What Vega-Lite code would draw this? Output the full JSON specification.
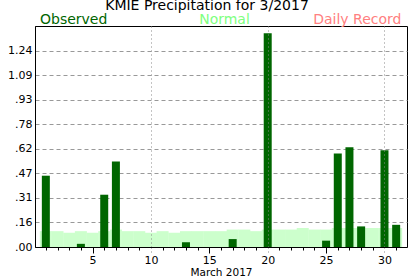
{
  "$schema": "https://vega.github.io/schema/vega-lite/v6.json",
  "width": 372,
  "height": 221,
  "autosize": {"type": "none"},
  "padding": {"left": 35, "top": 26, "right": 10, "bottom": 29},
  "background": "white",
  "config": {"font": "DejaVu Sans", "view": {"stroke": "black", "strokeWidth": 1}},
  "title": {"text": "KMIE Precipitation for 3/2017", "fontSize": 14, "limit": 0, "fontWeight": "normal", "color": "black", "anchor": "middle", "dx": -14, "offset": -11, "baseline": "alphabetic", "font": "DejaVu Sans"},
  "data": {"values": [
    {"day": 1, "precip": 0.45, "normal": 0.10},
    {"day": 2, "precip": 0, "normal": 0.10},
    {"day": 3, "precip": 0, "normal": 0.09},
    {"day": 4, "precip": 0.02, "normal": 0.10},
    {"day": 5, "precip": 0, "normal": 0.09},
    {"day": 6, "precip": 0.33, "normal": 0.10},
    {"day": 7, "precip": 0.54, "normal": 0.11},
    {"day": 8, "precip": 0, "normal": 0.10},
    {"day": 9, "precip": 0, "normal": 0.10},
    {"day": 10, "precip": 0, "normal": 0.09},
    {"day": 11, "precip": 0, "normal": 0.10},
    {"day": 12, "precip": 0, "normal": 0.09},
    {"day": 13, "precip": 0.03, "normal": 0.10},
    {"day": 14, "precip": 0, "normal": 0.10},
    {"day": 15, "precip": 0, "normal": 0.10},
    {"day": 16, "precip": 0, "normal": 0.10},
    {"day": 17, "precip": 0.05, "normal": 0.11},
    {"day": 18, "precip": 0, "normal": 0.11},
    {"day": 19, "precip": 0, "normal": 0.10},
    {"day": 20, "precip": 1.35, "normal": 0.11},
    {"day": 21, "precip": 0, "normal": 0.11},
    {"day": 22, "precip": 0, "normal": 0.11},
    {"day": 23, "precip": 0, "normal": 0.12},
    {"day": 24, "precip": 0, "normal": 0.11},
    {"day": 25, "precip": 0.04, "normal": 0.11},
    {"day": 26, "precip": 0.59, "normal": 0.12},
    {"day": 27, "precip": 0.63, "normal": 0.12},
    {"day": 28, "precip": 0.13, "normal": 0.12},
    {"day": 29, "precip": 0, "normal": 0.12},
    {"day": 30, "precip": 0.61, "normal": 0.12},
    {"day": 31, "precip": 0.14, "normal": 0.12}
  ]},
  "layer": [
    {
      "mark": {"type": "bar", "width": 12, "color": "#ccffcc"},
      "encoding": {
        "x": {"field": "day", "type": "quantitative",
          "scale": {"domain": [0.5, 31.5], "nice": false, "zero": false},
          "axis": {
            "values": [1,2,3,4,5,6,7,8,9,10,11,12,13,14,15,16,17,18,19,20,21,22,23,24,25,26,27,28,29,30,31],
            "title": "March 2017", "titleFontSize": 10.5, "titleFontWeight": "normal", "titleColor": "black", "titlePadding": 2,
            "labelExpr": "datum.value % 5 === 0 ? format(datum.value, 'd') : ''",
            "labelFontSize": 11, "labelColor": "black", "labelPadding": 1, "labelOverlap": false, "labelFlush": false, "labelBound": false,
            "tickSize": {"condition": {"test": "datum.value % 5 === 0", "value": 6}, "value": 3},
            "tickColor": {"condition": {"test": "datum.value % 10 === 0", "value": "#888888"}, "value": "black"},
            "tickDash": {"condition": {"test": "datum.value % 10 === 0", "value": [1, 3]}, "value": []},
            "grid": true,
            "gridOpacity": {"condition": {"test": "datum.value % 10 === 0", "value": 1}, "value": 0},
            "gridColor": "#888888", "gridDash": [1, 3],
            "domainColor": "black", "zindex": 1
          }},
        "y": {"field": "normal", "type": "quantitative",
          "scale": {"domain": [0, 1.395], "nice": false},
          "axis": {
            "values": [0, 0.155, 0.31, 0.465, 0.62, 0.775, 0.93, 1.085, 1.24],
            "title": null, "ticks": false, "labelPadding": 3, "labelFontSize": 11, "labelColor": "black", "labelOverlap": false,
            "domainColor": "black", "grid": true, "gridColor": "#999999", "gridDash": [4, 3],
            "labelExpr": "replace(format(datum.value + 0.001, '.2f'), '0.', '.')"
          }}
      }
    },
    {
      "mark": {"type": "bar", "width": 8, "color": "#006600"},
      "encoding": {
        "x": {"field": "day", "type": "quantitative",
          "axis": {
            "values": [1,2,3,4,5,6,7,8,9,10,11,12,13,14,15,16,17,18,19,20,21,22,23,24,25,26,27,28,29,30,31],
            "title": "March 2017", "titleFontSize": 10.5, "titleFontWeight": "normal", "titleColor": "black", "titlePadding": 2,
            "labelExpr": "datum.value % 5 === 0 ? format(datum.value, 'd') : ''",
            "labelFontSize": 11, "labelColor": "black", "labelPadding": 1, "labelOverlap": false, "labelFlush": false, "labelBound": false,
            "tickSize": {"condition": {"test": "datum.value % 5 === 0", "value": 6}, "value": 3},
            "tickColor": {"condition": {"test": "datum.value % 10 === 0", "value": "#888888"}, "value": "black"},
            "tickDash": {"condition": {"test": "datum.value % 10 === 0", "value": [1, 3]}, "value": []},
            "grid": true,
            "gridOpacity": {"condition": {"test": "datum.value % 10 === 0", "value": 1}, "value": 0},
            "gridColor": "#888888", "gridDash": [1, 3],
            "domainColor": "black", "zindex": 1
          }},
        "y": {"field": "precip", "type": "quantitative",
          "axis": {
            "values": [0, 0.155, 0.31, 0.465, 0.62, 0.775, 0.93, 1.085, 1.24],
            "title": null, "ticks": false, "labelPadding": 3, "labelFontSize": 11, "labelColor": "black", "labelOverlap": false,
            "domainColor": "black", "grid": true, "gridColor": "#999999", "gridDash": [4, 3],
            "labelExpr": "replace(format(datum.value + 0.001, '.2f'), '0.', '.')"
          }}
      }
    },
    {
      "data": {"values": [{"label": "Observed"}]},
      "mark": {"type": "text", "align": "left", "baseline": "alphabetic", "dy": -2, "fontSize": 14, "color": "#006600"},
      "encoding": {
        "x": {"datum": 0.5,
          "axis": {
            "values": [1,2,3,4,5,6,7,8,9,10,11,12,13,14,15,16,17,18,19,20,21,22,23,24,25,26,27,28,29,30,31],
            "title": "March 2017", "titleFontSize": 10.5, "titleFontWeight": "normal", "titleColor": "black", "titlePadding": 2,
            "labelExpr": "datum.value % 5 === 0 ? format(datum.value, 'd') : ''",
            "labelFontSize": 11, "labelColor": "black", "labelPadding": 1, "labelOverlap": false, "labelFlush": false, "labelBound": false,
            "tickSize": {"condition": {"test": "datum.value % 5 === 0", "value": 6}, "value": 3},
            "tickColor": {"condition": {"test": "datum.value % 10 === 0", "value": "#888888"}, "value": "black"},
            "tickDash": {"condition": {"test": "datum.value % 10 === 0", "value": [1, 3]}, "value": []},
            "grid": true,
            "gridOpacity": {"condition": {"test": "datum.value % 10 === 0", "value": 1}, "value": 0},
            "gridColor": "#888888", "gridDash": [1, 3],
            "domainColor": "black", "zindex": 1
          }},
        "y": {"datum": 1.395,
          "axis": {
            "values": [0, 0.155, 0.31, 0.465, 0.62, 0.775, 0.93, 1.085, 1.24],
            "title": null, "ticks": false, "labelPadding": 3, "labelFontSize": 11, "labelColor": "black", "labelOverlap": false,
            "domainColor": "black", "grid": true, "gridColor": "#999999", "gridDash": [4, 3],
            "labelExpr": "replace(format(datum.value + 0.001, '.2f'), '0.', '.')"
          }},
        "text": {"field": "label"}
      }
    },
    {
      "data": {"values": [{"label": "Normal"}]},
      "mark": {"type": "text", "align": "center", "baseline": "alphabetic", "dy": -2, "fontSize": 14, "color": "#80ff80"},
      "encoding": {
        "x": {"datum": 16.3,
          "axis": {
            "values": [1,2,3,4,5,6,7,8,9,10,11,12,13,14,15,16,17,18,19,20,21,22,23,24,25,26,27,28,29,30,31],
            "title": "March 2017", "titleFontSize": 10.5, "titleFontWeight": "normal", "titleColor": "black", "titlePadding": 2,
            "labelExpr": "datum.value % 5 === 0 ? format(datum.value, 'd') : ''",
            "labelFontSize": 11, "labelColor": "black", "labelPadding": 1, "labelOverlap": false, "labelFlush": false, "labelBound": false,
            "tickSize": {"condition": {"test": "datum.value % 5 === 0", "value": 6}, "value": 3},
            "tickColor": {"condition": {"test": "datum.value % 10 === 0", "value": "#888888"}, "value": "black"},
            "tickDash": {"condition": {"test": "datum.value % 10 === 0", "value": [1, 3]}, "value": []},
            "grid": true,
            "gridOpacity": {"condition": {"test": "datum.value % 10 === 0", "value": 1}, "value": 0},
            "gridColor": "#888888", "gridDash": [1, 3],
            "domainColor": "black", "zindex": 1
          }},
        "y": {"datum": 1.395,
          "axis": {
            "values": [0, 0.155, 0.31, 0.465, 0.62, 0.775, 0.93, 1.085, 1.24],
            "title": null, "ticks": false, "labelPadding": 3, "labelFontSize": 11, "labelColor": "black", "labelOverlap": false,
            "domainColor": "black", "grid": true, "gridColor": "#999999", "gridDash": [4, 3],
            "labelExpr": "replace(format(datum.value + 0.001, '.2f'), '0.', '.')"
          }},
        "text": {"field": "label"}
      }
    },
    {
      "data": {"values": [{"label": "Daily Record"}]},
      "mark": {"type": "text", "align": "right", "baseline": "alphabetic", "dy": -2, "fontSize": 14, "color": "#ff8080"},
      "encoding": {
        "x": {"datum": 31.45,
          "axis": {
            "values": [1,2,3,4,5,6,7,8,9,10,11,12,13,14,15,16,17,18,19,20,21,22,23,24,25,26,27,28,29,30,31],
            "title": "March 2017", "titleFontSize": 10.5, "titleFontWeight": "normal", "titleColor": "black", "titlePadding": 2,
            "labelExpr": "datum.value % 5 === 0 ? format(datum.value, 'd') : ''",
            "labelFontSize": 11, "labelColor": "black", "labelPadding": 1, "labelOverlap": false, "labelFlush": false, "labelBound": false,
            "tickSize": {"condition": {"test": "datum.value % 5 === 0", "value": 6}, "value": 3},
            "tickColor": {"condition": {"test": "datum.value % 10 === 0", "value": "#888888"}, "value": "black"},
            "tickDash": {"condition": {"test": "datum.value % 10 === 0", "value": [1, 3]}, "value": []},
            "grid": true,
            "gridOpacity": {"condition": {"test": "datum.value % 10 === 0", "value": 1}, "value": 0},
            "gridColor": "#888888", "gridDash": [1, 3],
            "domainColor": "black", "zindex": 1
          }},
        "y": {"datum": 1.395,
          "axis": {
            "values": [0, 0.155, 0.31, 0.465, 0.62, 0.775, 0.93, 1.085, 1.24],
            "title": null, "ticks": false, "labelPadding": 3, "labelFontSize": 11, "labelColor": "black", "labelOverlap": false,
            "domainColor": "black", "grid": true, "gridColor": "#999999", "gridDash": [4, 3],
            "labelExpr": "replace(format(datum.value + 0.001, '.2f'), '0.', '.')"
          }},
        "text": {"field": "label"}
      }
    }
  ]
}
